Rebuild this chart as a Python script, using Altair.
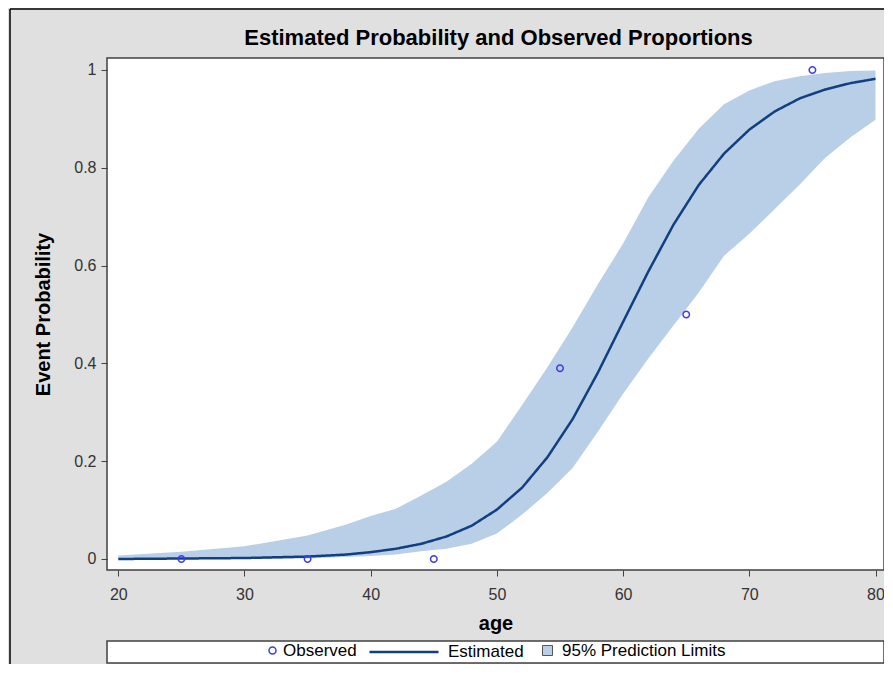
import altair as alt
import pandas as pd

# ---- data ----
ages = [20, 25, 30, 35, 38, 40, 42, 44, 46, 48, 50, 52, 54, 56, 58, 60, 62, 64, 66, 68, 70, 72, 74, 76, 78, 80]
estimated = [0.000, 0.001, 0.002, 0.005, 0.009, 0.014, 0.021, 0.031, 0.046, 0.068, 0.101, 0.146, 0.208,
             0.286, 0.381, 0.485, 0.588, 0.684, 0.765, 0.829, 0.878, 0.915, 0.942, 0.960, 0.973, 0.982]
lower = [0.000, 0.000, 0.000, 0.001, 0.004, 0.006, 0.009, 0.016, 0.021, 0.031, 0.052, 0.091, 0.135,
         0.186, 0.260, 0.338, 0.410, 0.478, 0.545, 0.620, 0.665, 0.715, 0.766, 0.820, 0.862, 0.898]
upper = [0.007, 0.015, 0.026, 0.048, 0.070, 0.088, 0.103, 0.130, 0.158, 0.195, 0.240, 0.315, 0.392,
         0.474, 0.562, 0.645, 0.740, 0.815, 0.880, 0.930, 0.958, 0.977, 0.987, 0.994, 0.998, 0.999]
obs_age = [25, 35, 45, 55, 65, 75]
obs_prop = [0.0, 0.0, 0.0, 0.39, 0.50, 1.0]

x_ticks = [20, 30, 40, 50, 60, 70, 80]
y_ticks = [0, 0.2, 0.4, 0.6, 0.8, 1]

title_text = "Estimated Probability and Observed Proportions"
x_title = "age"
y_title = "Event Probability"
lab_obs = "Observed"
lab_est = "Estimated"
lab_band = "95% Prediction Limits"

FONT = "Liberation Sans"
W, H = 777, 512

curve = pd.DataFrame({"age": ages, "est": estimated, "lo": lower, "hi": upper,
                      "band": lab_band, "estl": lab_est})
obs = pd.DataFrame({"age": obs_age, "p": obs_prop, "obsl": lab_obs})
one = pd.DataFrame({"k": [0]})

xscale = alt.Scale(domain=[19.105, 80.673], nice=False, zero=False)
yscale = alt.Scale(domain=[-0.0225, 1.0245], nice=False, zero=False)

xaxis = alt.Axis(values=x_ticks, title=x_title, grid=False, domain=False, tickSize=6,
                 tickColor="#404040", labelPadding=10, labelFont=FONT, labelFontSize=16,
                 labelColor="#333333", titleFont=FONT, titleFontSize=20, titleFontWeight="bold",
                 titleColor="black", titlePadding=11)
yaxis = alt.Axis(values=y_ticks, title=y_title, format=".1~f", grid=False, domain=False, tickSize=6,
                 tickColor="#404040", labelPadding=5, labelFont=FONT, labelFontSize=16,
                 labelColor="#333333", titleFont=FONT, titleFontSize=20, titleFontWeight="bold",
                 titleColor="black", titlePadding=20)

leg_common = dict(orient="none", title=None, padding=0, labelFont=FONT, labelFontSize=17,
                  labelColor="black", labelLimit=400)

band = alt.Chart(curve).mark_area(opacity=1).encode(
    x=alt.X("age:Q", scale=xscale, axis=xaxis),
    y=alt.Y("lo:Q", scale=yscale, axis=yaxis),
    y2="hi:Q",
    fill=alt.Fill("band:N", scale=alt.Scale(domain=[lab_band], range=["#b9cfe7"]),
                  legend=alt.Legend(legendX=432, legendY=584, symbolType="square", symbolSize=100,
                                    symbolStrokeColor="#555555", symbolStrokeWidth=1,
                                    labelOffset=6, **leg_common)),
)

line = alt.Chart(curve).mark_line(color="#123f7f", strokeWidth=2.5).encode(
    x=alt.X("age:Q", scale=xscale),
    y=alt.Y("est:Q", scale=yscale),
    strokeDash=alt.StrokeDash("estl:N", scale=alt.Scale(domain=[lab_est], range=[[1, 0]]),
                              legend=alt.Legend(legendX=261, legendY=558, symbolType="stroke",
                                                symbolSize=4761, symbolStrokeColor="#123f7f",
                                                symbolStrokeWidth=2.5, labelOffset=8, **leg_common)),
)

points = alt.Chart(obs).mark_point(shape="circle", filled=False, color="#3c3cf0", size=42,
                                   strokeWidth=1.5, opacity=1).encode(
    x=alt.X("age:Q", scale=xscale),
    y=alt.Y("p:Q", scale=yscale),
    shape=alt.Shape("obsl:N", scale=alt.Scale(domain=[lab_obs], range=["circle"]),
                    legend=alt.Legend(legendX=157, legendY=584, symbolSize=49,
                                      symbolStrokeColor="#3c3cf0", symbolFillColor="transparent",
                                      symbolStrokeWidth=1.5, labelOffset=2, **leg_common)),
)

legend_box = alt.Chart(one).mark_rect(fill="white", stroke="#404040", strokeWidth=1.5).encode(
    x=alt.value(0), x2=alt.value(W), y=alt.value(583), y2=alt.value(605))
frame_left = alt.Chart(one).mark_rule(color="black", strokeWidth=1.5).encode(
    x=alt.value(-97), y=alt.value(-49), y2=alt.value(606))
frame_top = alt.Chart(one).mark_rule(color="black", strokeWidth=1.5).encode(
    x=alt.value(-97), x2=alt.value(W + 1), y=alt.value(-49))

chart = alt.layer(legend_box, frame_left, frame_top, band, line, points).resolve_scale(
    fill="independent", strokeDash="independent", shape="independent"
).properties(
    width=W, height=H,
    title=alt.TitleParams(title_text, font=FONT, fontSize=22, fontWeight="bold", color="black",
                          anchor="middle", frame="group", offset=0, dy=42, dx=3),
    padding={"left": 99, "top": 50, "right": 0, "bottom": 94},
    autosize=alt.AutoSizeParams(type="none"),
).configure(background="#e0e0e0").configure_view(
    fill="white", stroke="#404040", strokeWidth=1.5
)

chart.save("out.html", embed_options={"renderer": "svg", "actions": False})
